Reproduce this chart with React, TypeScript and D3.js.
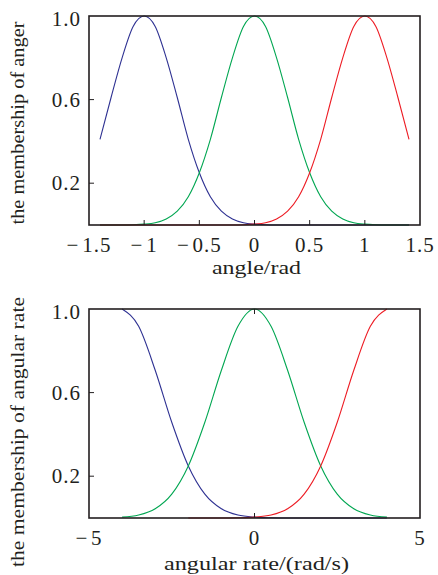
import React from 'react';
import * as d3 from 'd3';

// ---- data ----
const angleX = [-1.4, -1.3, -1.2, -1.1, -1.0, -0.9, -0.8, -0.7, -0.6, -0.5, -0.4, -0.3, -0.2, -0.1, 0, 0.1, 0.2, 0.3, 0.4, 0.5, 0.6, 0.7, 0.8, 0.9, 1.0, 1.1, 1.2, 1.3, 1.4];
const angleNeg = [0.41, 0.61, 0.8, 0.95, 1.0, 0.95, 0.8, 0.61, 0.41, 0.25, 0.135, 0.066, 0.029, 0.011, 0.004, 0.001, 0, 0, 0, 0, 0, 0, 0, 0, 0, 0, 0, 0, 0];
const angleZero = [0, 0, 0, 0.001, 0.004, 0.011, 0.029, 0.066, 0.135, 0.25, 0.41, 0.61, 0.8, 0.95, 1.0, 0.95, 0.8, 0.61, 0.41, 0.25, 0.135, 0.066, 0.029, 0.011, 0.004, 0.001, 0, 0, 0];
const anglePos = [0, 0, 0, 0, 0, 0, 0, 0, 0, 0, 0, 0, 0, 0.001, 0.004, 0.011, 0.029, 0.066, 0.135, 0.25, 0.41, 0.61, 0.8, 0.95, 1.0, 0.95, 0.8, 0.61, 0.41];

const rateX = [-4, -3.5, -3, -2.5, -2, -1.5, -1, -0.5, 0, 0.5, 1, 1.5, 2, 2.5, 3, 3.5, 4];
const rateNeg = [1, 0.917, 0.707, 0.458, 0.249, 0.114, 0.044, 0.014, 0.004, 0.001, 0, 0, 0, 0, 0, 0, 0];
const rateZero = [0.004, 0.014, 0.044, 0.114, 0.249, 0.458, 0.707, 0.917, 1, 0.917, 0.707, 0.458, 0.249, 0.114, 0.044, 0.014, 0.004];
const rateXPos = [-2, -1.5, -1, -0.5, 0, 0.5, 1, 1.5, 2, 2.5, 3, 3.5, 4];
const ratePos = [0, 0, 0, 0.001, 0.004, 0.014, 0.044, 0.114, 0.249, 0.458, 0.707, 0.917, 1];

const angleTicks = [-1.5, -1, -0.5, 0, 0.5, 1, 1.5];
const rateTicks = [-5, 0, 5];
const yTicks = [0.2, 0.6, 1.0];

const BLUE = '#2e3192';
const GREEN = '#00a651';
const RED = '#ed1c24';
const FONT = "'Liberation Serif', 'Times New Roman', Times, serif";
const INK = '#231f20';

type Series = { xs: number[]; ys: number[]; color: string };

function fmtX(v: number) {
  const s = String(Math.abs(v));
  return v < 0 ? '\u2212\u200A' + s : s;
}

function Panel(props: {
  top: number;
  xDomain: [number, number];
  xTicks: number[];
  innerXTicks: number[];
  topXTicks: number[];
  series: Series[];
  xTitle: string;
  xTitleLen: number;
  xTitleY: number;
  yTitle: string;
  yTitleLen: number;
  yTitleCenter: number;
}) {
  const left = 89, right = 420, h = 209;
  const top = props.top, bottom = top + h;
  const x = d3.scaleLinear().domain(props.xDomain).range([left, right]);
  const y = d3.scaleLinear().domain([0, 1]).range([bottom, top]);
  const line = d3.line<[number, number]>().x(d => x(d[0])).y(d => y(d[1])).curve(d3.curveMonotoneX);
  const tl = 5;
  const txt = { fontFamily: FONT, fill: INK } as React.CSSProperties;
  return (
    <g>
      {props.series.map((s, i) => (
        <path key={i} d={line(s.xs.map((v, j) => [v, s.ys[j]]) as [number, number][]) || ''} fill="none" stroke={s.color} strokeWidth={1.1} />
      ))}
      <rect x={left} y={top} width={right - left} height={h} fill="none" stroke={INK} strokeWidth={1.6} />
      {props.innerXTicks.map((t, i) => (
        <line key={'bx' + i} x1={x(t)} x2={x(t)} y1={bottom} y2={bottom - tl} stroke={INK} strokeWidth={1} />
      ))}
      {props.topXTicks.map((t, i) => (
        <line key={'tx' + i} x1={x(t)} x2={x(t)} y1={top} y2={top + tl} stroke={INK} strokeWidth={1} />
      ))}
      {yTicks.filter(t => t < 1).map((t, i) => (
        <line key={'y' + i} x1={left} x2={left + tl} y1={y(t)} y2={y(t)} stroke={INK} strokeWidth={1} />
      ))}
      {yTicks.map((t, i) => (
        <text key={'yl' + i} x={81} y={y(t) + 7 + (t === 1 ? 3 : 0)} textAnchor="end" style={{ ...txt, fontSize: 21, letterSpacing: 1 }}>
          {t.toFixed(1)}
        </text>
      ))}
      {props.xTicks.map((t, i) => (
        <text key={'xl' + i} x={x(t)} y={bottom + 27} textAnchor="middle" style={{ ...txt, fontSize: 21, letterSpacing: 1 }}>
          {fmtX(t)}
        </text>
      ))}
      <text x={(left + right) / 2 + 2} y={props.xTitleY} textAnchor="middle" textLength={props.xTitleLen} lengthAdjust="spacingAndGlyphs" style={{ ...txt, fontSize: 19 }}>
        {props.xTitle}
      </text>
      <text transform={`translate(24,${props.yTitleCenter}) rotate(-90)`} textAnchor="middle" textLength={props.yTitleLen} lengthAdjust="spacingAndGlyphs" style={{ ...txt, fontSize: 18 }}>
        {props.yTitle}
      </text>
    </g>
  );
}

export default function App() {
  return (
    <svg width={438} height={575} style={{ position: 'absolute', left: 0, top: 0, background: '#fff' }}>
      <rect width={438} height={575} fill="#fff" />
      <Panel
        top={16}
        xDomain={[-1.5, 1.5]}
        xTicks={angleTicks}
        innerXTicks={[-1, -0.5, 0, 0.5, 1]}
        topXTicks={[]}
        series={[
          { xs: angleX, ys: angleNeg, color: BLUE },
          { xs: angleX, ys: angleZero, color: GREEN },
          { xs: angleX, ys: anglePos, color: RED },
        ]}
        xTitle="angle/rad"
        xTitleLen={89}
        xTitleY={274}
        yTitle="the membership of anger"
        yTitleLen={203}
        yTitleCenter={123}
      />
      <Panel
        top={309}
        xDomain={[-5, 5]}
        xTicks={rateTicks}
        innerXTicks={[0]}
        topXTicks={[0]}
        series={[
          { xs: rateX, ys: rateNeg, color: BLUE },
          { xs: rateX, ys: rateZero, color: GREEN },
          { xs: rateXPos, ys: ratePos, color: RED },
        ]}
        xTitle="angular rate/(rad/s)"
        xTitleLen={185}
        xTitleY={570}
        yTitle="the membership of angular rate"
        yTitleLen={270}
        yTitleCenter={432}
      />
    </svg>
  );
}
